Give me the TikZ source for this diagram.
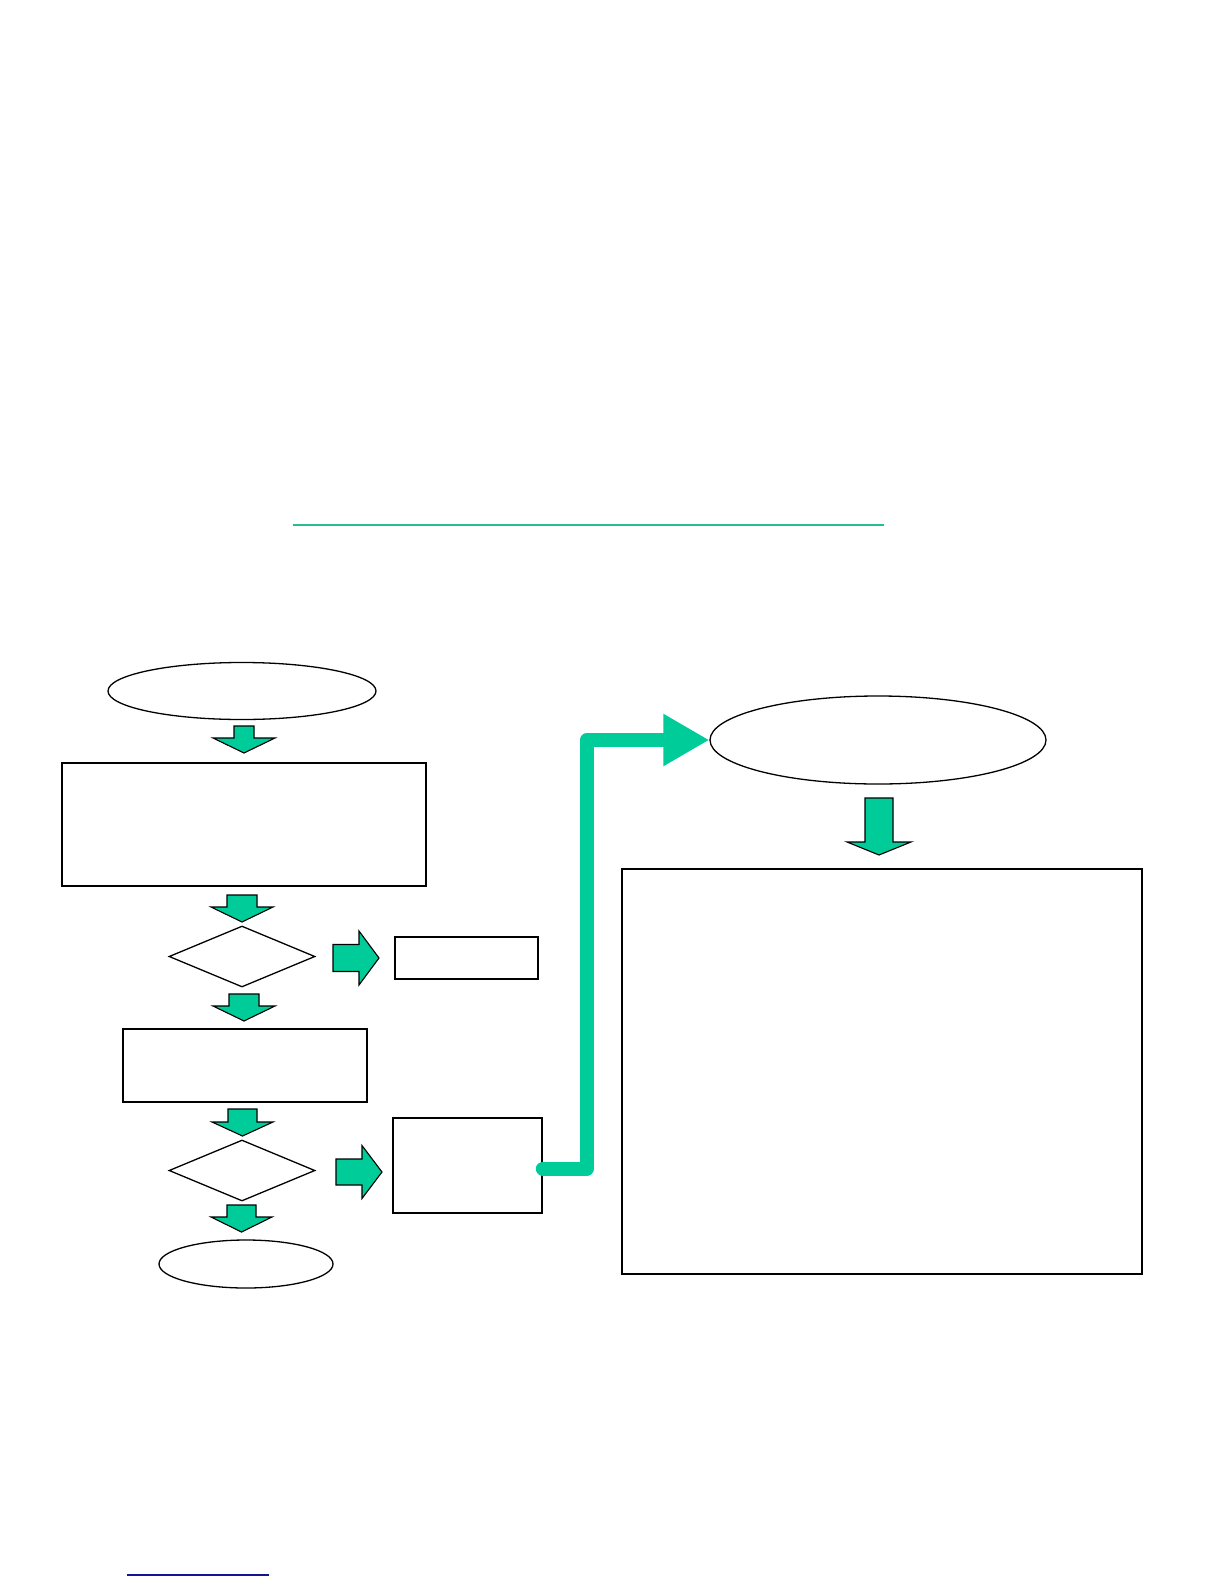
\documentclass[tikz,border=0pt]{standalone}
\usetikzlibrary{shapes.geometric,arrows.meta}
\definecolor{seagreen}{RGB}{0,204,153}
\definecolor{rulegreen}{RGB}{32,192,144}
\definecolor{linkblue}{RGB}{20,20,150}

% block arrows: centre, start, shaft half, head half, head start, tip
\newcommand{\blkdown}[6]{\draw[blk] (#1-#3,#2) -- (#1+#3,#2) -- (#1+#3,#5) -- (#1+#4,#5) -- (#1,#6) -- (#1-#4,#5) -- (#1-#3,#5) -- cycle;}
\newcommand{\blkright}[6]{\draw[blk] (#2,#1-#3) -- (#2,#1+#3) -- (#5,#1+#3) -- (#5,#1+#4) -- (#6,#1) -- (#5,#1-#4) -- (#5,#1-#3) -- cycle;}

\begin{document}
\begin{tikzpicture}[x=1pt, y=-1pt,
  box/.style={draw, line width=1.6pt, rectangle, inner sep=0pt},
  oval/.style={draw, line width=1.3pt, ellipse, inner sep=0pt},
  choice/.style={draw, line width=1.3pt, diamond, inner sep=0pt},
  blk/.style={draw=black, line width=1.1pt, fill=seagreen, line join=miter},
  flow/.style={seagreen, line width=14pt, line cap=round, line join=round}]
\useasboundingbox (0,0) rectangle (1224,1584);

\draw[rulegreen, line width=2.5pt] (293,525) -- (884,525);

\node[oval, minimum width=268, minimum height=57] (start) at (242,691) {};
\node[box, minimum width=364, minimum height=123] (intake) at (244,824.5) {};
\node[choice, minimum width=146, minimum height=61] (check1) at (242,956.5) {};
\node[box, minimum width=143, minimum height=42] (reject) at (466.5,958) {};
\node[box, minimum width=244, minimum height=73] (process) at (245,1065.5) {};
\node[choice, minimum width=146, minimum height=61] (check2) at (242,1170.5) {};
\node[box, minimum width=149, minimum height=95] (forward) at (467.5,1165.5) {};
\node[oval, minimum width=174, minimum height=48] (finish) at (246,1264) {};
\node[oval, minimum width=336, minimum height=88] (target) at (878,740) {};
\node[box, minimum width=520, minimum height=405] (detail) at (882,1071.5) {};

\blkdown{244}{726}{10}{31}{738}{753}
\blkdown{242}{895}{15}{31}{907}{922}
\blkdown{244}{994}{15}{31}{1006}{1021}
\blkdown{242.5}{1109}{14.5}{30.5}{1122}{1136}
\blkdown{241.5}{1205}{14.5}{30.5}{1217}{1232}
\blkdown{879}{798}{14}{32}{842}{855}
\blkright{958}{333}{13.5}{27}{359}{379}
\blkright{1172}{336}{13}{26.5}{362}{382}

\draw[flow, -{Triangle[length=46pt 0 0, width=49pt 0 0]}] (forward.east) ++(0,3) -- ++(44,0) |- (target.west);

\draw[linkblue, line width=1.5pt] (127,1575) -- (269,1575);
\end{tikzpicture}
\end{document}
